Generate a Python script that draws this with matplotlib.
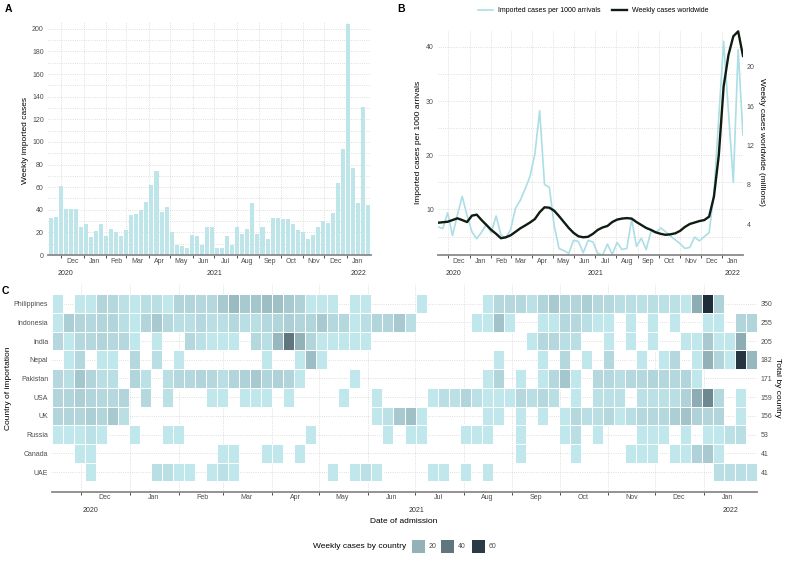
import numpy as np
import pandas as pd
import matplotlib
matplotlib.use("Agg")
import matplotlib.pyplot as plt
import matplotlib.dates as mdates
from matplotlib.colors import LinearSegmentedColormap, Normalize
from matplotlib.patches import Rectangle
from matplotlib.lines import Line2D

plt.rcParams['font.family'] = ['Liberation Sans', 'DejaVu Sans']

# weekly bins (Monday of each week)
weeks = pd.date_range('2020-11-16', periods=64, freq='7D')

# panel A
weekly_imported = [33, 34, 61, 41, 41, 41, 25, 27, 16, 21,
                   27, 17, 23, 20, 17, 22, 35, 36, 40, 47,
                   62, 74, 38, 42, 20, 9, 8, 6, 18, 17,
                   9, 25, 25, 6, 6, 17, 9, 25, 19, 23,
                   46, 19, 25, 14, 33, 33, 32, 32, 27, 22,
                   20, 14, 18, 25, 30, 28, 37, 64, 94, 204,
                   77, 46, 131, 44]

# panel B
imported_per_1000 = [6.8, 6.5, 9.4, 5.2, 9.0, 12.4, 8.9, 5.9, 4.6, 5.8,
                     7.3, 5.7, 8.8, 5.3, 4.7, 6.3, 10.2, 11.7, 13.8, 16.1,
                     20.2, 28.2, 14.6, 14.1, 7.0, 2.8, 2.4, 1.9, 4.3, 4.1,
                     2.0, 4.3, 4.0, 1.9, 1.6, 3.6, 1.7, 3.9, 2.6, 2.8,
                     8.2, 3.2, 4.7, 2.6, 6.0, 5.7, 6.6, 5.9, 5.1, 4.4,
                     3.7, 2.8, 3.0, 4.9, 4.2, 5.0, 5.7, 13.0, 27.0, 41.0,
                     28.0, 15.0, 39.5, 23.7]
worldwide_millions = [4.13, 4.18, 4.23, 4.4, 4.58, 4.4, 4.2, 4.85, 4.95, 4.4,
                      3.9, 3.4, 3.0, 2.55, 2.65, 2.85, 3.2, 3.56, 3.85, 4.15,
                      4.5, 5.2, 5.7, 5.66, 5.35, 4.8, 4.2, 3.6, 3.1, 2.75,
                      2.65, 2.7, 3.0, 3.4, 3.65, 3.8, 4.2, 4.45, 4.55, 4.6,
                      4.55, 4.2, 3.9, 3.6, 3.4, 3.15, 3.0, 2.9, 2.95, 3.05,
                      3.3, 3.7, 4.0, 4.15, 4.3, 4.4, 4.75, 6.8, 11.0, 18.0,
                      21.2, 23.1, 23.6, 21.1]

# panel C (weekly cases per country, 0 = none)
countries = ['Philippines', 'Indonesia', 'India', 'Nepal', 'Pakistan',
             'USA', 'UK', 'Russia', 'Canada', 'UAE']
country_totals = [350, 255, 205, 182, 171, 159, 156, 53, 41, 41]

philippines = ([2, 0, 2, 2, 8, 7, 4, 2, 5, 5, 2, 8, 8, 7, 7, 12, 17, 12]
               + [13, 16, 15, 12, 9, 2, 2, 2, 0, 2, 2, 0, 0, 0, 0, 2, 0, 0, 0, 0, 0, 2, 7, 7]
               + [7, 4, 8, 12, 8, 8, 10, 7, 7, 5, 5, 4, 5, 4, 4, 2, 22, 65, 9, 0, 0, 0])
indonesia = ([2, 10, 8, 7, 8, 8, 5, 2, 8, 12, 7, 5, 5, 7, 5, 5, 7, 5]
             + [5, 7, 8, 10, 8, 8, 12, 7, 7, 2, 5, 8, 8, 12, 5, 0, 0, 0, 0, 0, 2, 2, 14, 2]
             + [0, 0, 2, 2, 7, 7, 5, 2, 2, 0, 2, 0, 2, 0, 2, 0, 0, 2, 2, 0, 8, 8])
india = ([7, 2, 7, 7, 8, 7, 7, 2, 0, 2, 0, 0, 7, 4, 2, 2, 2, 0]
         + [7, 5, 18, 40, 20, 8, 2, 2, 2, 2, 2] + [0] * 13
         + [0, 2, 7, 7, 5, 5, 0, 0, 2, 0, 2, 0, 2, 0, 0, 2, 2, 12, 2, 2, 22, 0])
nepal = ([0, 2, 7, 0, 2, 2, 0, 7, 0, 5, 0, 2, 0, 0, 0, 0, 0, 0]
         + [0, 2, 0, 0, 2, 16, 2] + [0] * 15 + [2, 0]
         + [0, 0, 2, 0, 7, 0, 2, 0, 7, 0, 0, 2, 0, 2, 7, 0, 2, 20, 8, 2, 62, 18])
pakistan = ([7, 5, 13, 8, 5, 5, 0, 8, 4, 0, 5, 7, 7, 8, 7, 5, 8, 9]
            + [12, 8, 9, 8, 2, 0, 0, 0, 0, 2] + [0] * 11 + [2, 8, 0]
            + [2, 0, 2, 7, 13, 2, 0, 7, 7, 5, 7, 7, 8, 7, 7, 8, 2, 0, 0, 0, 0, 0])
usa = ([8, 8, 10, 8, 7, 7, 8, 0, 7, 0, 4, 0, 0, 0, 2, 2, 0, 2]
       + [2, 2, 0, 2, 0, 0, 0, 0, 2, 0, 0, 2, 0, 0, 0, 0, 2, 5, 4, 8, 4, 2, 2, 2]
       + [7, 5, 7, 5, 0, 2, 0, 4, 4, 4, 0, 4, 4, 4, 5, 9, 22, 34, 7, 0, 2, 0])
uk = ([8, 8, 8, 10, 8, 12, 5] + [0] * 11
      + [0] * 11 + [2, 4, 12, 15, 2] + [0] * 5 + [2, 2, 0]
      + [2, 0, 2, 0, 2, 7, 5, 5, 7, 2, 5, 7, 7, 7, 10, 14, 9, 8, 8, 0, 2, 0])
russia = ([2, 2, 2, 4, 2, 0, 0, 2, 0, 0, 2, 2, 0, 0, 0, 0, 0, 0]
          + [0, 0, 0, 0, 0, 2, 0, 0, 0, 0, 0, 0, 2, 0, 2, 2, 0, 0, 0, 2, 2, 2, 0, 0]
          + [2, 0, 0, 0, 2, 5, 0, 2, 0, 0, 0, 2, 2, 2, 0, 2, 0, 2, 2, 4, 5, 0])
canada = ([0, 0, 2, 2, 0, 0, 0, 0, 0, 0, 0, 0, 0, 0, 0, 2, 2, 0]
          + [0, 2, 2, 0, 2] + [0] * 19
          + [2, 0, 0, 0, 0, 2, 0, 0, 0, 0, 2, 2, 2, 0, 2, 2, 9, 12, 2, 0, 0, 0])
uae = ([0, 0, 0, 2, 0, 0, 0, 0, 0, 5, 5, 2, 2, 0, 2, 4, 2, 0]
       + [0, 0, 0, 0, 0, 0, 0, 2, 0, 2, 4, 2, 0, 0, 0, 0, 2, 2, 0, 2, 0, 2, 0, 0]
       + [0] * 18 + [5, 5, 5, 4])

legend_values = [20, 40, 60]

heat = np.array([philippines, indonesia, india, nepal, pakistan,
                 usa, uk, russia, canada, uae], dtype=float)

# colours
bar_col = '#bde5ea'
line_col = '#abdee5'
dark_col = '#0f1c12'
grid_col = '#d4d4d4'
tick_col = '#4d4d4d'
cmap = LinearSegmentedColormap.from_list('cases', ['#c3eaef', '#1f2d38'])
norm = Normalize(1, 65)

W, H = 787, 562


def fx(px):
    return px / W


def fy(py):
    return 1 - py / H


x0 = pd.Timestamp('2020-11-12 12:00')
x1 = pd.Timestamp('2022-02-03 12:00')
month_starts = pd.date_range('2020-12-01', '2022-01-01', freq='MS')
month_mids = month_starts + pd.Timedelta(days=15)
month_labels = [d.strftime('%b') for d in month_starts]


def style_time_axis(ax, left, right, label_pad, year_offset):
    ax.set_xlim(left, right)
    ax.set_xticks(month_starts)
    ax.set_xticklabels([])
    ax.set_xticks(month_mids, minor=True)
    ax.set_xticklabels(month_labels, minor=True)
    ax.tick_params(axis='x', which='major', length=2, width=0.6, color='#333333')
    ax.tick_params(axis='x', which='minor', length=0, pad=label_pad,
                   labelsize=5, labelcolor=tick_col)
    ax.tick_params(axis='y', which='both', length=0, labelsize=5,
                   labelcolor=tick_col, pad=3)
    for s in ['top', 'right', 'left']:
        ax.spines[s].set_visible(False)
    ax.spines['bottom'].set_color('#8a8a8a')
    ax.spines['bottom'].set_linewidth(1.3)
    ax.grid(True, which='major', axis='x', ls=':', color=grid_col, lw=0.6)
    ax.set_axisbelow(True)
    spans = [(left, pd.Timestamp('2020-12-31')),
             (pd.Timestamp('2021-01-01'), pd.Timestamp('2021-12-31')),
             (pd.Timestamp('2022-01-01'), right)]
    for (a, b), yr in zip(spans, ['2020', '2021', '2022']):
        mid = mdates.date2num(a + (b - a) / 2)
        ax.annotate(yr, xy=(mid, 0), xycoords=ax.get_xaxis_transform(),
                    xytext=(0, -year_offset), textcoords='offset points',
                    ha='center', va='center', fontsize=5, color='#333333')


fig = plt.figure(figsize=(W / 100, H / 100), dpi=100)
fig.patch.set_facecolor('white')

axA = fig.add_axes([fx(48), fy(255), fx(371) - fx(48), fy(22) - fy(255)])
axB = fig.add_axes([fx(438), fy(255), fx(743) - fx(438), fy(30) - fy(255)])
axC = fig.add_axes([fx(52), fy(491.7), fx(757) - fx(52), fy(284) - fy(491.7)])

# ---- A: weekly imported cases
axA.bar(weeks, weekly_imported, width=5.6, color=bar_col)
axA.set_ylim(0, 206)
axA.set_yticks(range(0, 201, 20))
axA.set_yticks(range(10, 206, 20), minor=True)
axA.grid(True, axis='y', which='both', ls=':', color=grid_col, lw=0.6)
style_time_axis(axA, x0, x1, 2, 13.5)
fig.text(fx(25.5), fy(140), 'Weekly imported cases', rotation=90,
         ha='center', va='center', fontsize=6)
fig.text(fx(8), fy(8.5), 'A', fontsize=7.5, fontweight='bold', ha='center', va='center')

# ---- B: rate per 1000 arrivals and worldwide cases
axB.plot(weeks, imported_per_1000, color=line_col, lw=1.2)
axB.set_ylim(1.6, 43.1)
axB.set_yticks([10, 20, 30, 40])
axB.set_yticks([5, 15, 25, 35], minor=True)
axB.grid(True, axis='y', which='both', ls=':', color=grid_col, lw=0.6)
style_time_axis(axB, weeks[0], weeks[-1], 2, 13.5)

axB2 = axB.twinx()
axB2.plot(weeks, worldwide_millions, color=dark_col, lw=1.7)
axB2.set_ylim(0.846, 23.74)
axB2.set_yticks([4, 8, 12, 16, 20])
axB2.tick_params(axis='y', length=0, labelsize=5, labelcolor=tick_col, pad=2.7)
for s in axB2.spines.values():
    s.set_visible(False)
axB2.set_xlim(weeks[0], weeks[-1])

fig.text(fx(418.5), fy(142), 'Imported cases per 1000 arrivals', rotation=90,
         ha='center', va='center', fontsize=6)
fig.text(fx(761), fy(142), 'Weekly cases worldwide (millions)', rotation=-90,
         ha='center', va='center', fontsize=6)
fig.text(fx(401.5), fy(8.5), 'B', fontsize=7.5, fontweight='bold', ha='center', va='center')

handles = [Line2D([], [], color=line_col, lw=1.2), Line2D([], [], color=dark_col, lw=1.7)]
axB.legend(handles, ['Imported cases per 1000 arrivals', 'Weekly cases worldwide'],
           loc='center', bbox_to_anchor=(0.508, 1.085), ncol=2, frameon=False,
           fontsize=5, handlelength=2.2, columnspacing=1.6, handletextpad=0.7)

# ---- C: heatmap by country
for i, row in enumerate(heat):
    keep = row > 0
    axC.bar(weeks[keep], 1, bottom=i - 0.5, width=7, align='center',
            color=cmap(norm(row[keep])), edgecolor='white', linewidth=0.7)
axC.set_ylim(9.5 + 0.55, -0.5 - 0.55)
axC.set_yticks(range(len(countries)))
axC.set_yticklabels(countries)
axC.grid(True, axis='y', ls=':', color=grid_col, lw=0.6)
style_time_axis(axC, x0, x1, 1.4, 13.7)
axC.tick_params(axis='y', pad=2.7)

axC2 = axC.twinx()
axC2.set_ylim(axC.get_ylim())
axC2.set_yticks(range(len(countries)))
axC2.set_yticklabels([str(t) for t in country_totals])
axC2.tick_params(axis='y', length=0, labelsize=5, labelcolor=tick_col, pad=2.7)
for s in axC2.spines.values():
    s.set_visible(False)

fig.text(fx(8.3), fy(388), 'Country of importation', rotation=90,
         ha='center', va='center', fontsize=6)
fig.text(fx(777), fy(388), 'Total by country', rotation=-90,
         ha='center', va='center', fontsize=6)
fig.text(fx(404), fy(521.7), 'Date of admission', ha='center', va='center', fontsize=6)
fig.text(fx(5), fy(291.5), 'C', fontsize=7.5, fontweight='bold', ha='center', va='center')

# colour legend at the bottom
fig.text(fx(406), fy(546.7), 'Weekly cases by country', ha='right', va='center', fontsize=6)
for v, left in zip(legend_values, [412, 441, 472]):
    fig.add_artist(Rectangle((fx(left), fy(553)), fx(13), fy(540) - fy(553),
                             transform=fig.transFigure, facecolor=cmap(norm(v)),
                             edgecolor='none'))
    fig.text(fx(left + 17), fy(546.7), str(v), ha='left', va='center',
             fontsize=5, color=tick_col)

fig.savefig('out.png', dpi=100)
